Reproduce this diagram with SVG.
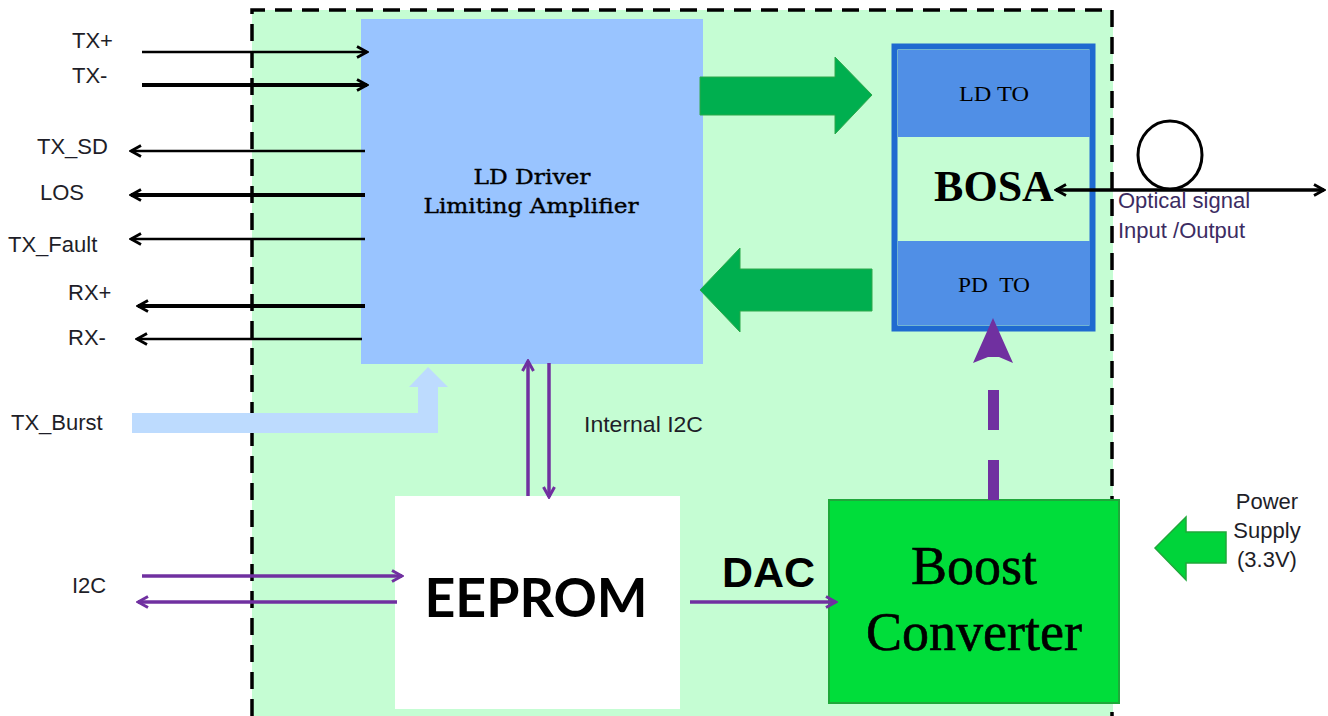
<svg xmlns="http://www.w3.org/2000/svg" width="1328" height="716" viewBox="0 0 1328 716">
<style>
.lbl{font-family:"Liberation Sans",Arial,sans-serif;font-size:22px;fill:#1e1e28}
.opt{font-family:"Liberation Sans",Arial,sans-serif;font-size:22px;fill:#3c2c62}
.ser{font-family:"Liberation Serif","Times New Roman",serif;fill:#000}
.blk{stroke:#000;fill:none}
.pur{stroke:#7030A0;fill:none;stroke-width:3.5}
.thin{stroke-width:2.5}
.thick{stroke-width:4}
.garrow{fill:#00AF4F;stroke:#2DA84A;stroke-width:1}
</style>
<defs>
<marker id="ah" viewBox="0 0 14 14" refX="12" refY="7" markerWidth="14" markerHeight="14" markerUnits="userSpaceOnUse" orient="auto-start-reverse">
<path d="M2,1.5 L12,7 L2,12.5" fill="none" stroke="#000" stroke-width="2.8"/>
</marker>
<marker id="ap" viewBox="0 0 14 14" refX="12" refY="7" markerWidth="14" markerHeight="14" markerUnits="userSpaceOnUse" orient="auto-start-reverse">
<path d="M2,1.5 L12,7 L2,12.5" fill="none" stroke="#7030A0" stroke-width="3"/>
</marker>
</defs>

<rect id="module-bg" x="252" y="10" width="861" height="710" fill="#C5FDD3"/>

<g id="ld-driver">
<rect x="361" y="19" width="342" height="345" fill="#99C4FF"/>
<text class="ser" x="532" y="184" font-size="21" text-anchor="middle" textLength="117" lengthAdjust="spacingAndGlyphs" stroke="#000" stroke-width="0.4" style="font-family:'DejaVu Serif',serif">LD Driver</text>
<text class="ser" x="531" y="213" font-size="21" text-anchor="middle" textLength="215" lengthAdjust="spacingAndGlyphs" stroke="#000" stroke-width="0.4" style="font-family:'DejaVu Serif',serif">Limiting Amplifier</text>
</g>

<g id="eeprom">
<rect x="395" y="496" width="285" height="213" fill="#FFFFFF"/>
<text x="536" y="617" font-family="Lato,'Open Sans',sans-serif" font-weight="bold" font-size="54" fill="#000" text-anchor="middle" textLength="223" lengthAdjust="spacingAndGlyphs">EEPROM</text>
</g>

<g id="bosa">
<rect x="894.5" y="46.5" width="198" height="282" fill="#C5FDD3" stroke="#1F6AD0" stroke-width="6"/>
<rect x="898" y="50" width="192" height="87" fill="#508FE6"/>
<rect x="898" y="241" width="192" height="84" fill="#508FE6"/>
<text class="ser" x="994" y="101" font-size="21" text-anchor="middle" fill="#111" textLength="70" lengthAdjust="spacingAndGlyphs">LD TO</text>
<text class="ser" x="994" y="201" font-size="44" font-weight="bold" text-anchor="middle">BOSA</text>
<text class="ser" x="994" y="292" font-size="21" text-anchor="middle" fill="#111" xml:space="preserve" textLength="72" lengthAdjust="spacingAndGlyphs">PD  TO</text>
</g>

<g id="border">
<path d="M252,716 V10 H1112 V716" fill="none" stroke="#000" stroke-width="3.5" stroke-dasharray="17 10"/>
</g>

<g id="boost-converter">
<rect x="829" y="500" width="290" height="203" fill="#00DD3A" stroke="#1FA83A" stroke-width="2"/>
<text class="ser" x="974" y="584" font-size="54" text-anchor="middle" stroke="#000" stroke-width="0.6">Boost</text>
<text class="ser" x="974" y="650" font-size="54" text-anchor="middle" stroke="#000" stroke-width="0.6">Converter</text>
</g>

<g id="labels">
<text class="lbl" x="72" y="48">TX+</text>
<text class="lbl" x="72" y="83">TX-</text>
<text class="lbl" x="37" y="154">TX_SD</text>
<text class="lbl" x="40" y="200">LOS</text>
<text class="lbl" x="8" y="252">TX_Fault</text>
<text class="lbl" x="68" y="300">RX+</text>
<text class="lbl" x="68" y="345">RX-</text>
<text class="lbl" x="11" y="430">TX_Burst</text>
<text class="lbl" x="72" y="593">I2C</text>
<text class="lbl" x="584" y="432" textLength="119" lengthAdjust="spacingAndGlyphs">Internal I2C</text>
<text x="722" y="587" font-family="'Liberation Sans',Arial,sans-serif" font-weight="bold" font-size="43" fill="#000">DAC</text>
<text class="opt" x="1118" y="208">Optical signal</text>
<text class="opt" x="1118" y="238">Input /Output</text>
<text class="lbl" x="1267" y="509" text-anchor="middle">Power</text>
<text class="lbl" x="1267" y="538" text-anchor="middle">Supply</text>
<text class="lbl" x="1267" y="567" text-anchor="middle">(3.3V)</text>
</g>

<g id="connectors">
<line class="blk thin" x1="142" y1="52" x2="367" y2="52" marker-end="url(#ah)"/>
<line class="blk thick" x1="142" y1="85" x2="367" y2="85" marker-end="url(#ah)"/>
<line class="blk thin" x1="365" y1="151" x2="131" y2="151" marker-end="url(#ah)"/>
<line class="blk thick" x1="365" y1="195" x2="131" y2="195" marker-end="url(#ah)"/>
<line class="blk thin" x1="365" y1="239" x2="131" y2="239" marker-end="url(#ah)"/>
<line class="blk thick" x1="365" y1="306" x2="138" y2="306" marker-end="url(#ah)"/>
<line class="blk thin" x1="362" y1="339" x2="137" y2="339" marker-end="url(#ah)"/>
<path d="M132,413 H418 V387 H409 L428,367 L448,387 H438 V433 H132 Z" fill="#BDDBFE"/>
<line class="pur" x1="142" y1="576" x2="402" y2="576" marker-end="url(#ap)"/>
<line class="pur" x1="397" y1="602" x2="138" y2="602" marker-end="url(#ap)"/>
<line class="pur" x1="528" y1="496" x2="528" y2="361" marker-end="url(#ap)"/>
<line class="pur" x1="549" y1="363" x2="549" y2="497" marker-end="url(#ap)"/>
<line class="pur" x1="690" y1="602" x2="836" y2="602" marker-end="url(#ap)"/>
<path d="M993.5,500 V362" stroke="#7030A0" stroke-width="11" stroke-dasharray="40 30" fill="none"/>
<path d="M993,318 L1013,363 L999,357 L988,357 L973,363 Z" fill="#7030A0"/>
<path class="garrow" d="M700,77 H835 V57 L872,95 L835,134 V115 H700 Z"/>
<path class="garrow" d="M700,290 L740,248 V269 H872 V311 H740 V332 Z"/>
<path d="M1155,548 L1186,517 V532 H1226 V563 H1186 V580 Z" fill="#00D43A" stroke="#1FA83A" stroke-width="1.5"/>
<ellipse cx="1170" cy="155" rx="32" ry="34" fill="none" stroke="#000" stroke-width="3"/>
<line class="blk" stroke-width="3.5" x1="1056" y1="190" x2="1324" y2="190" marker-start="url(#ah)" marker-end="url(#ah)"/>
</g>
</svg>
